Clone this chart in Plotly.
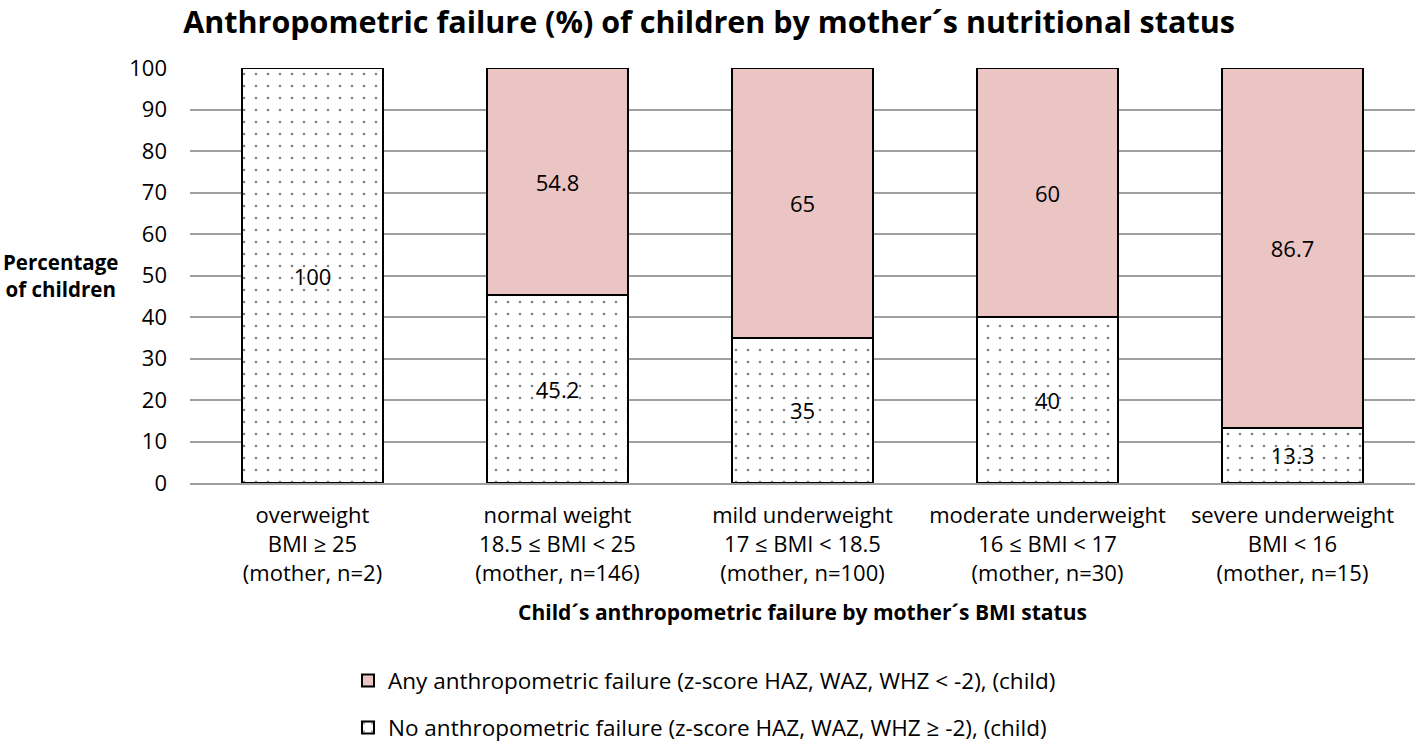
import plotly.graph_objects as go

categories = [
    "overweight<br>BMI ≥ 25<br>(mother, n=2)",
    "normal weight<br>18.5 ≤ BMI < 25<br>(mother, n=146)",
    "mild underweight<br>17 ≤ BMI < 18.5<br>(mother, n=100)",
    "moderate underweight<br>16 ≤ BMI < 17<br>(mother, n=30)",
    "severe underweight<br>BMI < 16<br>(mother, n=15)",
]
no_failure = [100, 45.2, 35, 40, 13.3]
any_failure = [None, 54.8, 65, 60, 86.7]
y_ticks = [0, 10, 20, 30, 40, 50, 60, 70, 80, 90, 100]

FONT = "Open Sans"
fig = go.Figure()
fig.add_trace(go.Bar(
    x=categories, y=no_failure,
    name="No anthropometric failure (z-score HAZ, WAZ, WHZ ≥ -2), (child)",
    text=[str(v) for v in no_failure], textposition="inside",
    insidetextanchor="middle", textangle=0,
    textfont=dict(color="black", size=22, family=FONT),
    marker=dict(color="white", line=dict(color="black", width=2),
                pattern=dict(shape=".", fgcolor="black", bgcolor="white",
                             size=12, solidity=0.04)),
    legend="legend2",
))
fig.add_trace(go.Bar(
    x=categories, y=any_failure,
    name="Any anthropometric failure (z-score HAZ, WAZ, WHZ < -2), (child)",
    text=[("" if v is None else str(v)) for v in any_failure], textposition="inside",
    insidetextanchor="middle", textangle=0,
    textfont=dict(color="black", size=22, family=FONT),
    marker=dict(color="#EBC4C4", line=dict(color="black", width=2)),
    legend="legend",
))

fig.update_layout(
    width=1418, height=745,
    barmode="stack", bargap=0.424,
    plot_bgcolor="white", paper_bgcolor="white",
    margin=dict(l=190, r=3, t=68, b=262, autoexpand=False),
    font=dict(family=FONT, color="black", size=22),
    uniformtext=dict(mode="show", minsize=22),
    title=dict(text="<b>Anthropometric failure (%) of children by mother´s nutritional status</b>",
               x=0.5, xanchor="center", y=0.9705, yanchor="middle",
               font=dict(size=30.5, family=FONT, color="black")),
    xaxis=dict(
        showgrid=False, showline=True, linecolor="#A0A0A0", linewidth=2,
        tickfont=dict(size=22, family=FONT), ticks="", ticklabelstandoff=12,
        title=dict(text="<b>Child´s anthropometric failure by mother´s BMI status</b>",
                   font=dict(size=21, family=FONT), standoff=20),
    ),
    yaxis=dict(
        range=[0, 100], tickvals=y_ticks, showgrid=True, gridcolor="#A0A0A0", gridwidth=2,
        zeroline=False, showline=False, ticks="",
        tickfont=dict(size=22, family=FONT), ticklabelstandoff=22,
    ),
    annotations=[dict(
        text="<b>Percentage<br>of children</b>", xref="paper", yref="paper",
        x=-0.106, y=0.5, xanchor="center", yanchor="middle", showarrow=False,
        font=dict(size=20.5, family=FONT, color="black"),
    )],
    showlegend=True,
    legend=dict(x=0.129, y=-0.477, xanchor="left", yanchor="middle",
                font=dict(size=22.5, family=FONT), bgcolor="rgba(0,0,0,0)"),
    legend2=dict(x=0.129, y=-0.59, xanchor="left", yanchor="middle",
                 font=dict(size=22.5, family=FONT), bgcolor="rgba(0,0,0,0)"),
)

fig.write_html("out.html", config={"displayModeBar": False},
               post_script="document.body.style.margin='0';document.body.style.overflow='hidden';")
